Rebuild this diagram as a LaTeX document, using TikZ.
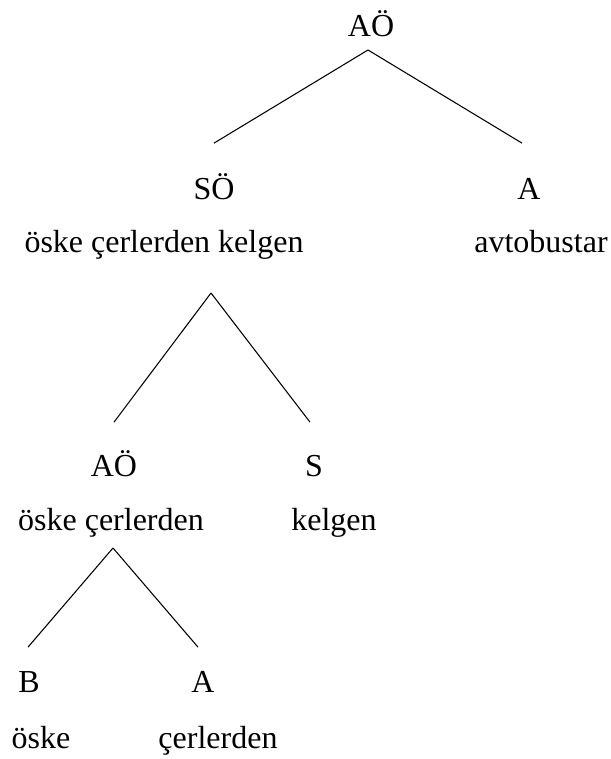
\documentclass[tikz,border=0pt]{standalone}
\usepackage{fontspec}
\setmainfont{Liberation Serif}
\usetikzlibrary{positioning}

\begin{document}
\begin{tikzpicture}[x=0.375pt,y=-0.375pt,
  every node/.style={font=\fontsize{12}{14}\selectfont, inner sep=0pt},
  cat/.style={anchor=base, text height=8pt, text depth=0pt},
  word/.style={anchor=base}]
  \useasboundingbox (0,0) rectangle (610,759);
  % root
  \node[cat] (ao) at (371,37) {AÖ};
  \coordinate (ao-j) at (368,50);
  % first level
  \node[cat] (so) at (214,200) {SÖ};
  \node[word] (so-w) at (164,253) {öske çerlerden kelgen};
  \node[cat] (a1) at (529,200) {A};
  \node[word] (a1-w) at (541,253) {avtobustar};
  \coordinate (so-j) at (211,293);
  % second level
  \node[cat] (ao2) at (114,476) {AÖ};
  \node[word] (ao2-w) at (111,530) {öske çerlerden};
  \node[cat] (s) at (314,476) {S};
  \node[word] (s-w) at (334,530) {kelgen};
  \coordinate (ao2-j) at (113,548);
  % third level
  \node[cat] (b) at (29,692) {B};
  \node[word] (b-w) at (41,748) {öske};
  \node[cat] (a2) at (203,692) {A};
  \node[word] (a2-w) at (218,748) {çerlerden};
  % branches
  \draw (ao-j) -- ([shift={(0,-35)}]so.north);
  \draw (ao-j) -- ([shift={(-7,-35)}]a1.north);
  \draw (so-j) -- ([shift={(0,-32)}]ao2.north);
  \draw (so-j) -- ([shift={(-4,-32)}]s.north);
  \draw (ao2-j) -- ([shift={(-1,-23)}]b.north);
  \draw (ao2-j) -- ([shift={(-5,-23)}]a2.north);
\end{tikzpicture}
\end{document}
